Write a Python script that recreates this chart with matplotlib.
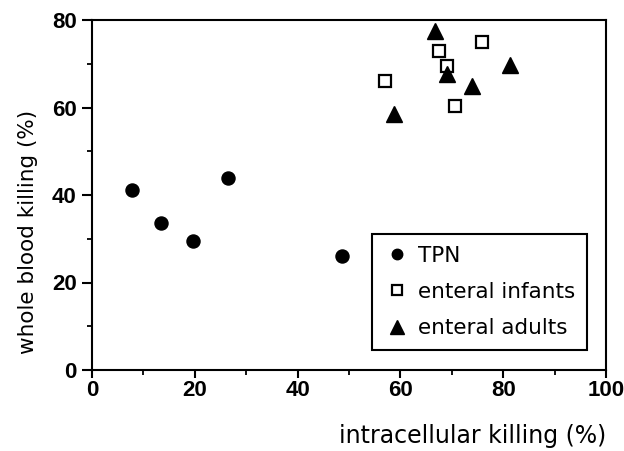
import matplotlib.pyplot as plt
from matplotlib import font_manager as fm
from matplotlib.ticker import MultipleLocator

# intracellular killing (%) vs whole blood killing (%)
tpn_x = [7.7, 13.4, 19.7, 26.4, 48.6]
tpn_y = [41.2, 33.5, 29.6, 43.8, 26.0]

infants_x = [75.8, 67.6, 69.0, 57.0, 70.6]
infants_y = [74.9, 73.0, 69.6, 66.1, 60.4]

adults_x = [66.7, 69.1, 74.0, 81.3, 58.8]
adults_y = [77.6, 67.7, 65.0, 69.7, 58.5]

# Helvetica-bold look-alike for the tick numbers (avoid the Narrow variant)
bold_files = [f for f in fm.findSystemFonts() if f.endswith("LiberationSans-Bold.ttf")]
if bold_files:
    tick_font = fm.FontProperties(fname=bold_files[0], size=16)
else:
    tick_font = fm.FontProperties(family="DejaVu Sans", weight="bold", size=14)

W, H = 624, 451
fig = plt.figure(figsize=(W / 100, H / 100), dpi=100)
ax = fig.add_axes([92 / W, 1 - 370 / H, 514 / W, 350 / H])

ax.plot(tpn_x, tpn_y, "o", color="black", ms=9.4, label="TPN")
ax.plot(infants_x, infants_y, "s", mfc="white", mec="black", mew=1.6,
        ms=8.4, label="enteral infants")
ax.plot(adults_x, adults_y, "^", color="black", ms=12, label="enteral adults")

ax.set_xlim(0, 100)
ax.set_ylim(0, 80)
ax.xaxis.set_major_locator(MultipleLocator(20))
ax.xaxis.set_minor_locator(MultipleLocator(10))
ax.yaxis.set_major_locator(MultipleLocator(20))
ax.yaxis.set_minor_locator(MultipleLocator(10))

for s in ax.spines.values():
    s.set_linewidth(1.5)
ax.tick_params(which="major", direction="out", width=1.5)
ax.tick_params(axis="x", which="major", length=5.5, pad=2)
ax.tick_params(axis="y", which="major", length=7, pad=4)
ax.tick_params(which="minor", direction="out", length=3.5, width=1.3)
for lab in ax.get_xticklabels() + ax.get_yticklabels():
    lab.set_fontproperties(tick_font)

ax.set_xlabel("intracellular killing (%)", fontsize=17, ha="right", va="center")
ax.xaxis.set_label_coords(1.0, -0.19)
ax.set_ylabel("whole blood killing (%)", fontsize=15.5, ha="center", va="center")
ax.yaxis.set_label_coords(-0.1245, 0.394)

leg = ax.legend(loc="upper left", bbox_to_anchor=(372 / W, 1 - 234 / H),
                bbox_transform=fig.transFigure, borderaxespad=0,
                numpoints=1, markerscale=0.8, fontsize=15.5, frameon=True,
                fancybox=False, edgecolor="black", framealpha=1,
                borderpad=0.55, handlelength=1.2, handletextpad=0.4,
                labelspacing=0.75)
leg.get_frame().set_linewidth(1.5)

fig.savefig("out.png", dpi=100)
